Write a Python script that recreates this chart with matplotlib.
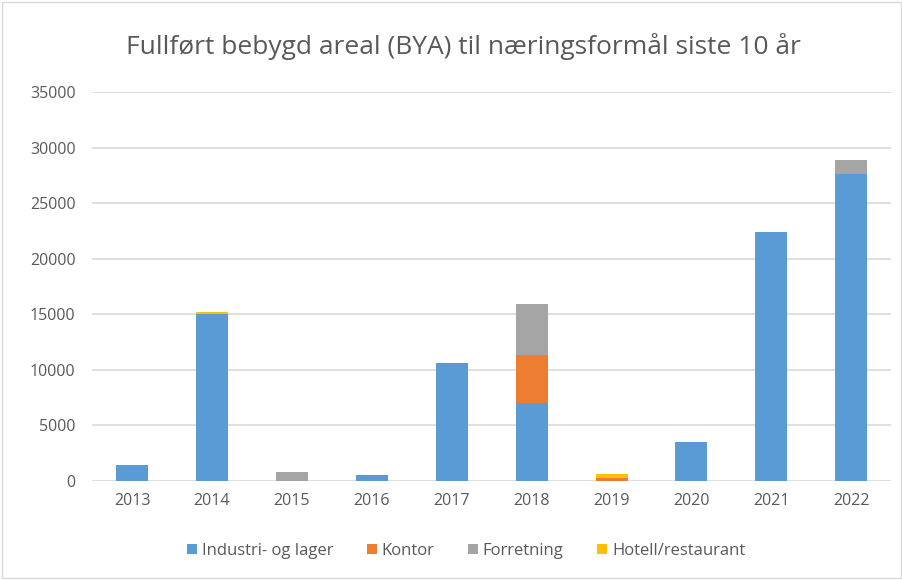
import numpy as np
import matplotlib
matplotlib.use("Agg")
from matplotlib import pyplot as plt
from matplotlib.patches import Rectangle

years = ["2013", "2014", "2015", "2016", "2017", "2018", "2019", "2020", "2021", "2022"]
industri = [1400, 15050, 0, 550, 10600, 7000, 0, 3550, 22400, 27600]
kontor = [0, 0, 0, 0, 0, 4300, 230, 0, 0, 0]
forretning = [0, 0, 850, 0, 0, 4650, 0, 0, 0, 1300]
hotell = [0, 150, 0, 0, 0, 0, 420, 0, 0, 0]

series = ["Industri- og lager", "Kontor", "Forretning", "Hotell/restaurant"]
colors = ["#5b9bd5", "#ed7d31", "#a5a5a5", "#ffc000"]

plt.rcParams['font.family'] = ['Open Sans', 'DejaVu Sans']

fig = plt.figure(figsize=(9.03, 5.8), dpi=100)
ax = fig.add_axes([0.102, 0.1707, 0.885, 0.6707])

x = np.arange(len(years))
bottom = np.zeros(len(years))
for vals, col, name in zip([industri, kontor, forretning, hotell], colors, series):
    ax.bar(x, vals, width=0.4, bottom=bottom, color=col, label=name, zorder=3)
    bottom += np.array(vals)

ax.set_ylim(0, 35000)
ax.set_xlim(-0.5, len(years) - 0.5)
ax.set_yticks(range(0, 35001, 5000))
ax.set_xticks(x)
ax.set_xticklabels(years)
ax.grid(axis='y', color='#d9d9d9', linewidth=1.2, zorder=0)
for s in ax.spines.values():
    s.set_visible(False)
ax.tick_params(length=0, labelsize=11.5, labelcolor='#595959')
ax.tick_params(axis='x', pad=9)
ax.tick_params(axis='y', pad=12)

fig.text(0.513, 0.92, "Fullført bebygd areal (BYA) til næringsformål siste 10 år",
         ha='center', va='center', fontsize=19, color='#595959')

leg = fig.legend(loc='center', bbox_to_anchor=(0.516, 0.05), ncol=4, frameon=False,
                 fontsize=12, handlelength=0.6, handleheight=0.6, handletextpad=0.3,
                 columnspacing=2.0)
for t in leg.get_texts():
    t.set_color('#595959')

fig.patches.append(Rectangle((0.002, 0.003), 0.996, 0.994, transform=fig.transFigure,
                             fill=False, edgecolor='#d9d9d9', linewidth=1))

fig.savefig("out.png", dpi=100)
